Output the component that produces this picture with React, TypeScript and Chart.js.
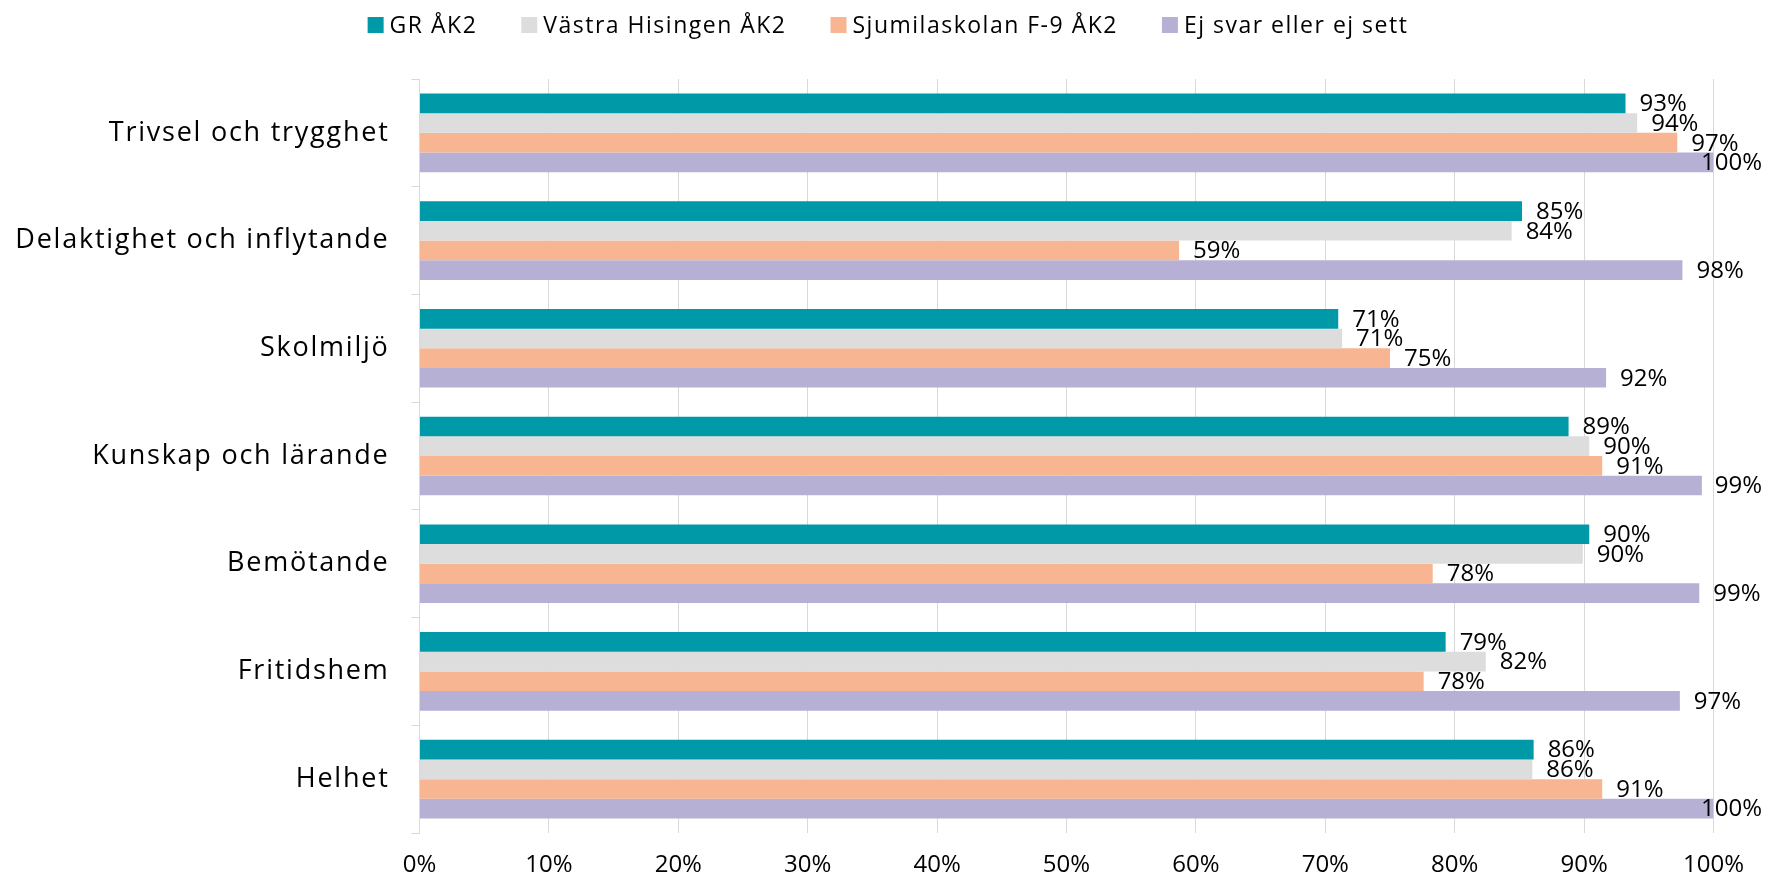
import React, { useEffect, useRef } from "react";
import { Chart, registerables } from "chart.js";

Chart.register(...registerables);

const categories = [
  "Trivsel och trygghet",
  "Delaktighet och inflytande",
  "Skolmiljö",
  "Kunskap och lärande",
  "Bemötande",
  "Fritidshem",
  "Helhet",
];

const seriesNames = [
  "GR ÅK2",
  "Västra Hisingen ÅK2",
  "Sjumilaskolan F-9 ÅK2",
  "Ej svar eller ej sett",
];

const grAk2 = [93.2, 85.2, 71.0, 88.8, 90.4, 79.3, 86.1];
const vastraHisingen = [94.1, 84.4, 71.3, 90.4, 89.9, 82.4, 86.0];
const sjumilaskolan = [97.2, 58.7, 75.0, 91.4, 78.3, 77.6, 91.4];
const ejSvar = [100, 97.6, 91.7, 99.1, 98.9, 97.4, 100];

const xTickLabels = ["0%", "10%", "20%", "30%", "40%", "50%", "60%", "70%", "80%", "90%", "100%"];

const seriesColors = ["#0099A8", "#DDDDDD", "#F8B592", "#B6B0D5"];

const FONT = "'Open Sans'";

const valueLabelPlugin = {
  id: "valueLabels",
  afterDatasetsDraw(chart: any) {
    const ctx = chart.ctx;
    ctx.save();
    ctx.font = `24px ${FONT}`;
    ctx.fillStyle = "#000";
    ctx.textBaseline = "middle";
    ctx.textAlign = "left";
    chart.data.datasets.forEach((ds: any, di: number) => {
      const meta = chart.getDatasetMeta(di);
      meta.data.forEach((bar: any, i: number) => {
        const v = ds.data[i];
        const txt = Math.round(v) + "%";
        const w = ctx.measureText(txt).width;
        const x = Math.min(bar.x + 14, chart.width - 3 - w);
        ctx.fillText(txt, x, bar.y + 1);
      });
    });
    ctx.restore();
  },
};

const legendPlugin = {
  id: "topLegend",
  beforeDraw(chart: any) {
    const ys = chart.scales.y;
    if (ys && !ys.__spaced) {
      const orig = ys.drawLabels;
      ys.drawLabels = function (area: any) {
        const c = this.ctx;
        c.save();
        c.letterSpacing = "1.75px";
        orig.call(this, area);
        c.restore();
      };
      ys.__spaced = true;
    }
  },
  afterDraw(chart: any) {
    const ctx = chart.ctx;
    ctx.save();
    ctx.font = `23px ${FONT}`;
    ctx.letterSpacing = "1.5px";
    ctx.textBaseline = "middle";
    ctx.textAlign = "left";
    const box = 16;
    const gap = 6;
    const itemGap = 44;
    const items = chart.data.datasets.map((ds: any) => ({
      label: ds.label,
      color: ds.backgroundColor,
      w: ctx.measureText(ds.label).width,
    }));
    const total =
      items.reduce((s: number, it: any) => s + box + gap + it.w, 0) + itemGap * (items.length - 1);
    let x = 888 - total / 2;
    const y = 25;
    items.forEach((it: any) => {
      ctx.fillStyle = it.color;
      ctx.fillRect(x, y - box / 2, box, box);
      ctx.fillStyle = "#000";
      ctx.fillText(it.label, x + box + gap, y + 1);
      x += box + gap + it.w + itemGap;
    });
    ctx.restore();
  },
};

export default function App() {
  const canvasRef = useRef<HTMLCanvasElement | null>(null);

  useEffect(() => {
    if (!canvasRef.current) return;
    const seriesData = [grAk2, vastraHisingen, sjumilaskolan, ejSvar];
    const chart = new Chart(canvasRef.current, {
      type: "bar",
      data: {
        labels: categories,
        datasets: seriesNames.map((name, i) => ({
          label: name,
          data: seriesData[i],
          backgroundColor: seriesColors[i],
          borderWidth: 0,
          categoryPercentage: 0.73,
          barPercentage: 1,
        })),
      },
      options: {
        indexAxis: "y",
        responsive: false,
        animation: false,
        devicePixelRatio: 1,
        layout: { padding: { top: 79, right: 51.5, bottom: 0, left: 0 } },
        plugins: {
          legend: { display: false },
          tooltip: { enabled: false },
        },
        scales: {
          x: {
            min: 0,
            max: 100,
            ticks: {
              stepSize: 10,
              callback: (_v: any, idx: number) => xTickLabels[idx],
              font: { family: FONT, size: 24 },
              color: "#000",
              padding: 18,
              maxRotation: 0,
            },
            grid: { color: "#D9D9D9", drawTicks: false, lineWidth: 1 },
            border: { display: false },
            afterFit: (s: any) => {
              s.height = 45;
            },
          },
          y: {
            ticks: {
              font: { family: FONT, size: 27 },
              color: "#000",
              padding: 22,
            },
            grid: {
              display: true,
              drawOnChartArea: false,
              offset: true,
              tickLength: 8,
              color: "#D9D9D9",
            },
            border: { display: true, color: "#D9D9D9" },
            afterFit: (s: any) => {
              s.width = 419.5;
            },
          },
        },
      },
      plugins: [valueLabelPlugin, legendPlugin],
    });
    return () => chart.destroy();
  }, []);

  return (
    <div style={{ position: "absolute", left: 0, top: 0, width: 1765, height: 878, background: "#fff" }}>
      <canvas ref={canvasRef} width={1765} height={878} style={{ width: 1765, height: 878 }} />
    </div>
  );
}
